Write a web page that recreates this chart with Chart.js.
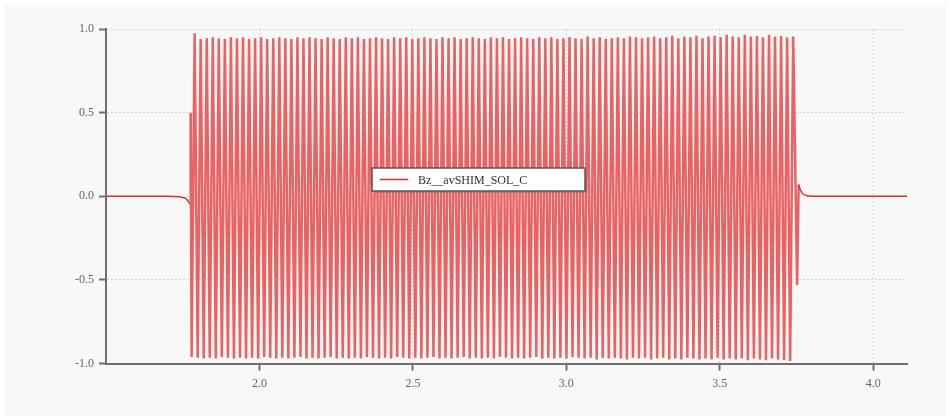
<!DOCTYPE html>
<html>
<head>
<meta charset="utf-8">
<script src="https://cdn.jsdelivr.net/npm/chart.js@4.4.1/dist/chart.umd.min.js"></script>
<style>
  html, body { margin: 0; padding: 0; background: #ffffff; }
  #wrap { width: 950px; height: 420px; }
</style>
</head>
<body>
<div id="wrap"><canvas id="field-chart" width="950" height="420"></canvas></div>
<script>
// quiet lead-in before the burst
const leadX = [1.50, 1.70, 1.74, 1.760, 1.768, 1.774, 1.776];
const leadY = [0.0, 0.0, -0.003, -0.012, -0.03, -0.05, 0.50];

// burst: one trough + one peak per cycle, sampled on a fixed time step
const burstStart = 1.779;
const burstStep = 0.0197;
const troughs = [
  -0.96, -0.965, -0.97, -0.965, -0.97, -0.96, -0.965, -0.97, -0.965, -0.97,
  -0.965, -0.97, -0.96, -0.965, -0.97, -0.965, -0.97, -0.965, -0.96, -0.97,
  -0.965, -0.97, -0.965, -0.96, -0.97, -0.965, -0.97, -0.965, -0.97, -0.96,
  -0.965, -0.97, -0.965, -0.97, -0.96, -0.965, -0.97, -0.965, -0.97, -0.965,
  -0.96, -0.97, -0.965, -0.97, -0.965, -0.96, -0.97, -0.965, -0.97, -0.965,
  -0.97, -0.96, -0.965, -0.97, -0.965, -0.97, -0.965, -0.96, -0.97, -0.965,
  -0.97, -0.965, -0.97, -0.96, -0.965, -0.97, -0.965, -0.975, -0.965, -0.97,
  -0.965, -0.97, -0.975, -0.965, -0.97, -0.965, -0.975, -0.97, -0.965, -0.975,
  -0.97, -0.975, -0.965, -0.97, -0.975, -0.97, -0.975, -0.965, -0.975, -0.97,
  -0.975, -0.97, -0.98, -0.97, -0.975, -0.98, -0.97, -0.975, -0.98, -0.985
];
const peaks = [
  0.975, 0.94, 0.945, 0.95, 0.945, 0.94, 0.95, 0.945, 0.95, 0.94,
  0.945, 0.95, 0.94, 0.945, 0.95, 0.945, 0.94, 0.95, 0.945, 0.95,
  0.945, 0.94, 0.95, 0.945, 0.94, 0.95, 0.945, 0.95, 0.94, 0.945,
  0.95, 0.945, 0.94, 0.95, 0.945, 0.95, 0.94, 0.945, 0.95, 0.945,
  0.94, 0.95, 0.945, 0.95, 0.94, 0.945, 0.95, 0.945, 0.94, 0.95,
  0.945, 0.95, 0.94, 0.945, 0.95, 0.945, 0.94, 0.95, 0.945, 0.95,
  0.94, 0.945, 0.95, 0.945, 0.94, 0.955, 0.945, 0.95, 0.94, 0.945,
  0.95, 0.945, 0.955, 0.95, 0.945, 0.95, 0.955, 0.945, 0.95, 0.96,
  0.945, 0.955, 0.95, 0.96, 0.945, 0.955, 0.96, 0.95, 0.965, 0.955,
  0.95, 0.965, 0.955, 0.96, 0.95, 0.965, 0.955, 0.96, 0.95, 0.955
];

// ring-down after the burst
const tailX = [3.752, 3.757, 3.762, 3.770, 3.785, 3.80, 4.11];
const tailY = [-0.53, 0.07, 0.04, 0.015, 0.003, 0.0, 0.0];

const xTicks = [2.0, 2.5, 3.0, 3.5, 4.0];
const yTicks = [-1.0, -0.5, 0.0, 0.5, 1.0];
const seriesLabel = 'Bz__avSHIM_SOL_C';

let points = [];
for (let i = 0; i < leadX.length; i++) {
  points.push({ x: leadX[i], y: leadY[i] });
}
for (let i = 0; i < peaks.length; i++) {
  points.push({ x: burstStart + i * burstStep, y: troughs[i] });
  points.push({ x: burstStart + i * burstStep + burstStep / 2, y: peaks[i] });
}
for (let i = 0; i < tailX.length; i++) {
  points.push({ x: tailX[i], y: tailY[i] });
}

const axisColor = '#707070';
const gridColor = 'rgba(165, 170, 205, 0.45)';
const lineRed = 'rgb(208, 50, 50)';
const burstRed = 'rgb(234, 98, 98)';
const tickFont = { family: 'Liberation Serif', size: 12 };

// thin dark line outside the burst, wide pink strokes inside it
const quiet = (sc) => sc.p1.parsed.x <= leadX[leadX.length - 2] || sc.p0.parsed.x >= tailX[1];

// page background
const bgPlugin = {
  id: 'bg',
  beforeDraw(chart) {
    const c = chart.ctx;
    c.save();
    c.fillStyle = '#f8f8f8';
    c.fillRect(4, 4, chart.width - 8, chart.height - 8);
    c.restore();
  }
};

// boxed legend floating in the middle of the plot
const boxLegend = {
  id: 'boxLegend',
  afterDraw(chart) {
    const c = chart.ctx;
    const ds = chart.data.datasets[0];
    const x = 372, y = 168, w = 213, h = 23;
    c.save();
    c.fillStyle = 'rgba(0,0,0,0.12)';
    c.fillRect(x + 2, y + 2, w, h);
    c.fillStyle = '#ffffff';
    c.fillRect(x, y, w, h);
    c.strokeStyle = '#555';
    c.lineWidth = 1.5;
    c.strokeRect(x, y, w, h);
    c.strokeStyle = lineRed;
    c.lineWidth = 1.5;
    c.beginPath();
    c.moveTo(x + 8, y + h / 2);
    c.lineTo(x + 36, y + h / 2);
    c.stroke();
    c.fillStyle = '#333';
    c.font = '12px "Liberation Serif"';
    c.textBaseline = 'middle';
    c.fillText(ds.label, x + 46, y + h / 2 + 1);
    c.restore();
  }
};

const ctx = document.getElementById('field-chart').getContext('2d');
const fieldChart = new Chart(ctx, {
  type: 'line',
  data: {
    datasets: [
      {
        label: seriesLabel,
        data: points,
        borderColor: burstRed,
        borderWidth: 2.5,
        pointRadius: 0,
        tension: 0,
        fill: false,
        segment: {
          borderColor: (sc) => (quiet(sc) ? lineRed : undefined),
          borderWidth: (sc) => (quiet(sc) ? 1.4 : undefined),
        },
      },
    ],
  },
  options: {
    responsive: false,
    animation: false,
    layout: { padding: { left: 70, right: 43, top: 29, bottom: 23 } },
    plugins: {
      legend: { display: false },
      tooltip: { enabled: false },
    },
    scales: {
      x: {
        type: 'linear',
        min: 1.50,
        max: 4.11,
        afterBuildTicks: (axis) => {
          axis.ticks = xTicks.map((v) => ({ value: v }));
        },
        border: { color: axisColor, width: 2, dash: [2, 2] },
        grid: {
          color: gridColor,
          tickColor: axisColor,
          tickLength: 7,
          tickWidth: 2,
        },
        ticks: {
          color: '#666',
          font: tickFont,
          padding: 6,
          callback: (v) => Number(v).toFixed(1),
        },
      },
      y: {
        type: 'linear',
        min: -1.0,
        max: 1.0,
        afterBuildTicks: (axis) => {
          axis.ticks = yTicks.map((v) => ({ value: v }));
        },
        border: { color: axisColor, width: 2, dash: [2, 2] },
        grid: {
          color: gridColor,
          tickColor: axisColor,
          tickLength: 7,
          tickWidth: 2,
        },
        ticks: {
          color: '#666',
          font: tickFont,
          padding: 5,
          callback: (v) => Number(v).toFixed(1),
        },
      },
    },
  },
  plugins: [bgPlugin, boxLegend],
});
</script>
</body>
</html>
